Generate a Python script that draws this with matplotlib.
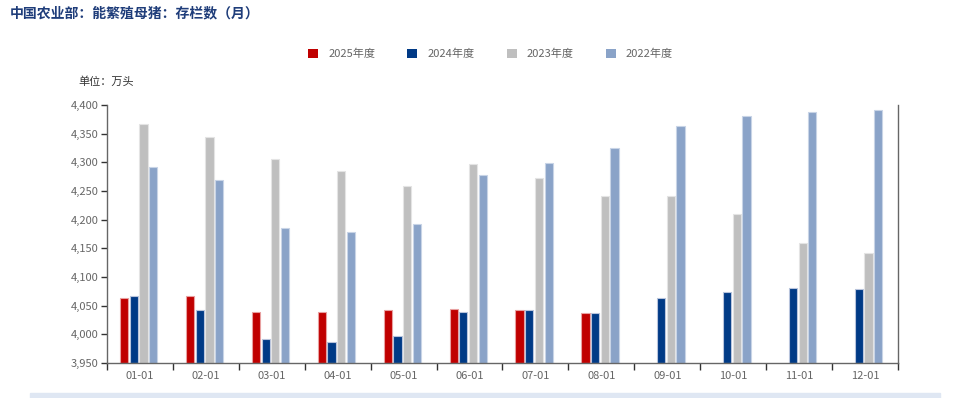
import matplotlib

matplotlib.use("Agg")
import matplotlib.pyplot as plt
import numpy as np
from matplotlib.patches import Rectangle
from matplotlib.ticker import FuncFormatter

plt.rcParams["font.family"] = ["Noto Sans CJK SC", "DejaVu Sans"]

months = ["01-01", "02-01", "03-01", "04-01", "05-01", "06-01",
          "07-01", "08-01", "09-01", "10-01", "11-01", "12-01"]
years = ["2025年度", "2024年度", "2023年度", "2022年度"]

y2025 = [4063, 4066, 4039, 4039, 4042, 4044, 4042, 4038, None, None, None, None]
y2024 = [4067, 4042, 3992, 3986, 3997, 4039, 4042, 4037, 4063, 4074, 4081, 4079]
y2023 = [4367, 4344, 4306, 4285, 4259, 4297, 4272, 4241, 4241, 4210, 4159, 4142]
y2022 = [4291, 4269, 4186, 4178, 4192, 4278, 4299, 4325, 4363, 4380, 4388, 4391]

series = [y2025, y2024, y2023, y2022]
colors = ["#c00000", "#003a86", "#bfbfbf", "#8aa3c8"]
edges = ["#e8a0a0", "#b8c4dc", "#e4e4e4", "#c8d4e6"]

BASE = 3950
TICK_COLOR = "#666666"

fig = plt.figure(figsize=(9.59, 3.98), dpi=100)
ax = fig.add_axes([107 / 959, 1 - 363 / 398, 791 / 959, 258 / 398])

x = np.arange(len(months))
pitch = 0.147
width = 0.125
for i, (vals, c, ec, label) in enumerate(zip(series, colors, edges, years)):
    offs = (i - 1.5) * pitch - 0.02
    xs = [xx + offs for xx, v in zip(x, vals) if v is not None]
    hs = [v - BASE for v in vals if v is not None]
    ax.bar(xs, hs, bottom=BASE, width=width, color=c, edgecolor=ec,
           linewidth=0.8, label=label, zorder=2)

ax.set_xlim(-0.5, len(months) - 0.5)
ax.set_ylim(BASE, 4400)
ax.set_yticks(np.arange(3950, 4401, 50))
ax.yaxis.set_major_formatter(FuncFormatter(lambda v, p: f"{int(v):,}"))
ax.set_xticks(x)
ax.set_xticklabels(months)
ax.set_xticks(np.arange(-0.5, len(months), 1), minor=True)
ax.tick_params(axis="x", which="major", length=0, pad=6, labelsize=8, labelcolor=TICK_COLOR)
ax.tick_params(axis="x", which="minor", length=5, width=1, color="#333333", direction="out")
ax.tick_params(axis="y", length=4, width=1, color="#333333", labelsize=8, labelcolor=TICK_COLOR, pad=2)

ax.spines["top"].set_visible(False)
for side in ["left", "right", "bottom"]:
    ax.spines[side].set_color("#666666")
    ax.spines[side].set_linewidth(1)

fig.text(10 / 959, 1 - 13 / 398, "中国农业部：能繁殖母猪：存栏数（月）", fontsize=10,
         fontweight="bold", color="#1f3d7a", va="center", ha="left")
fig.text(78 / 959, 1 - 82 / 398, "单位：万头", fontsize=8, color="#333333",
         va="center", ha="left")

leg = fig.legend(loc="center", bbox_to_anchor=(0.5115, 1 - 54 / 398), ncol=4,
                 frameon=False, fontsize=8, handlelength=0.9, handleheight=0.9,
                 columnspacing=2.9, handletextpad=0.9)
for t in leg.get_texts():
    t.set_color(TICK_COLOR)
for h in leg.legend_handles:
    h.set_edgecolor("none")

fig.patches.append(Rectangle((30 / 959, 0), 910 / 959, 5 / 398,
                             transform=fig.transFigure, color="#dfe7f3", zorder=0))

fig.savefig("out.png", dpi=100)
